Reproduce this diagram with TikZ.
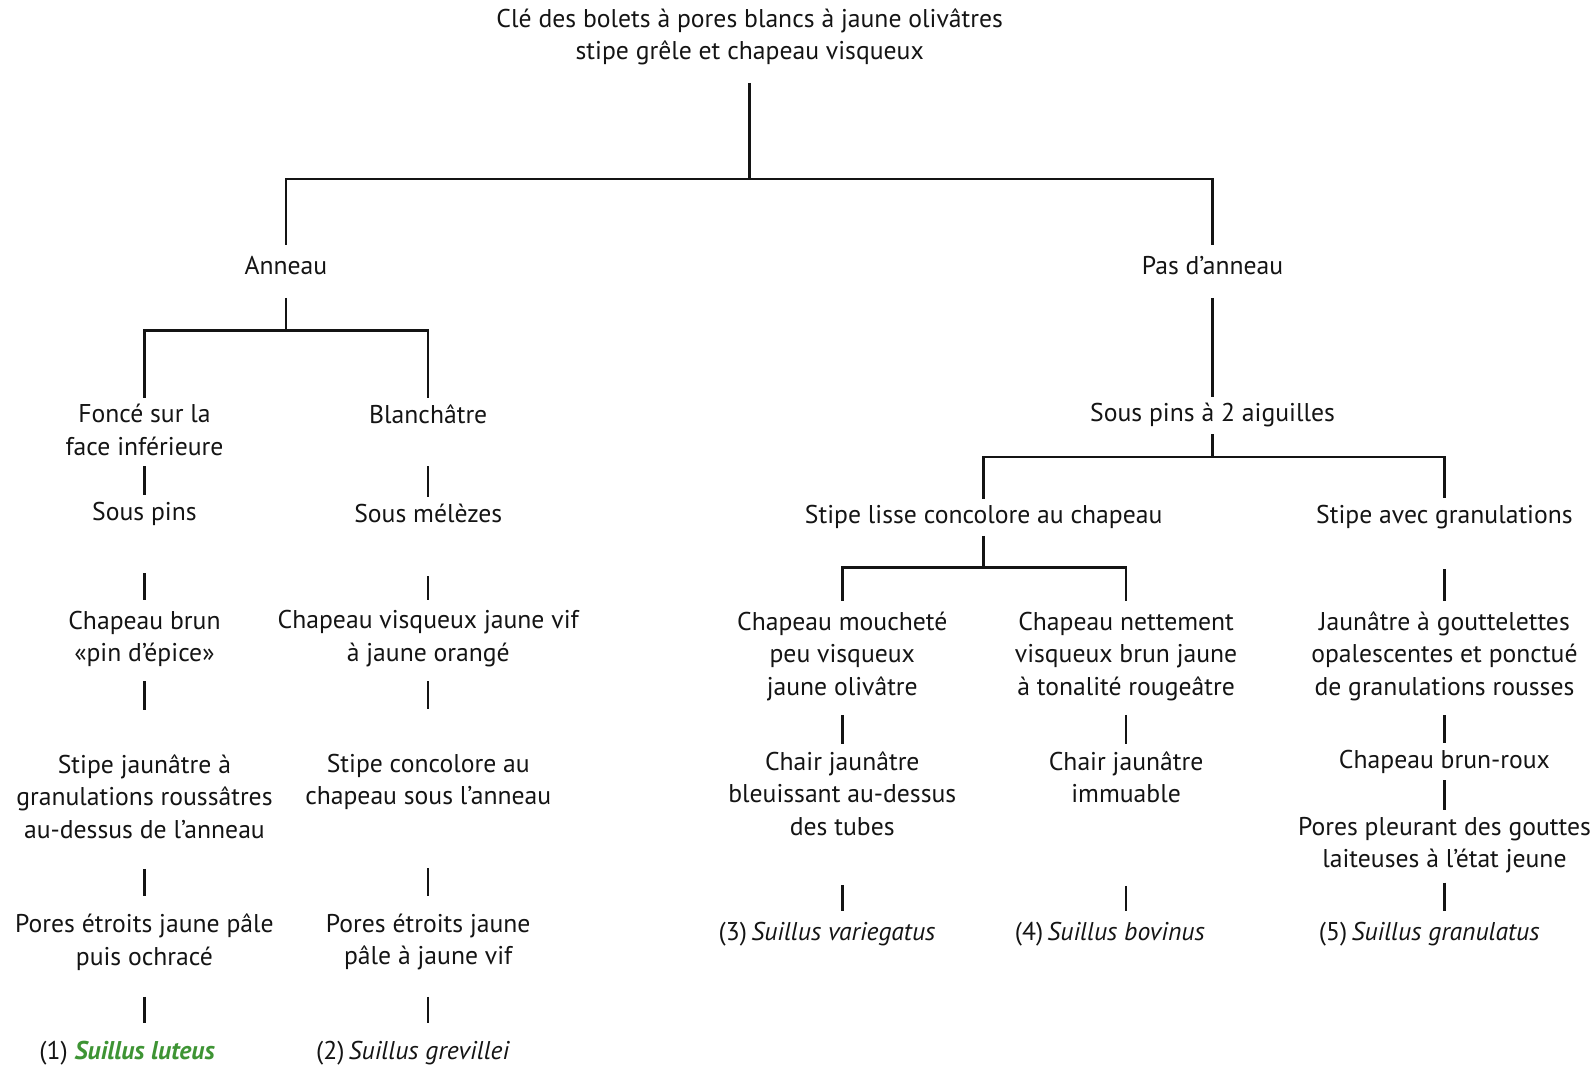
\documentclass[tikz,border=0pt]{standalone}
\usepackage{fontspec}
\setmainfont{PT Sans}
\usepackage{tikz}
\usetikzlibrary{positioning, calc}
\usepackage{xcolor}
\definecolor{SG}{RGB}{62,148,52}
\definecolor{DG}{RGB}{20,20,20}

\begin{document}
\begin{tikzpicture}[
  x=0.020344cm, y=-0.020344cm,
  key/.style={align=center, inner sep=0pt, text=DG,
              font=\fontsize{14.6}{18.5}\selectfont},
  stem/.style={draw=DG, line width=1.4pt}
]
\useasboundingbox (0,0) rectangle (1568,1049);

% Title
\node[key] (title) at (737,36)
  {Clé des bolets à pores blancs à jaune olivâtres\\stipe grêle et chapeau visqueux};

% First split
\node[key] (anneau) at (281,261) {Anneau};
\node[key] (pasann) at (1192,261) {Pas d’anneau};

% Branch with ring
\node[key] (fonce)  at (142,422.5) {Foncé sur la\\face inférieure};
\node[key] (blanch) at (421,407) {Blanchâtre};
\node[key] (spins)  at (142,505) {Sous pins};
\node[key] (smelez) at (421,505) {Sous mélèzes};
\node[key] (chbrun) at (142,628) {Chapeau brun\\«pin d’épice»};
\node[key] (chvisq) at (421,628) {Chapeau visqueux jaune vif\\à jaune orangé};
\node[key] (stjaun) at (142,783) {Stipe jaunâtre à\\granulations roussâtres\\au-dessus de l’anneau};
\node[key] (stconc) at (421,768.5) {Stipe concolore au\\chapeau sous l’anneau};
\node[key] (poresa) at (142,926) {Pores étroits jaune pâle\\puis ochracé};
\node[key] (poresb) at (421,926) {Pores étroits jaune\\pâle à jaune vif};
\node[key] (sp1) at (125,1035)
  {(1) \textcolor{SG}{\textbf{\textit{Suillus luteus}}}};
\node[key] (sp2) at (406,1035) {(2)\,\textit{Suillus grevillei}};

% Branch without ring
\node[key] (spins2)  at (1192,408) {Sous pins à 2 aiguilles};
\node[key] (stlisse) at (967,508) {Stipe lisse concolore au chapeau};
\node[key] (stgran)  at (1420,508) {Stipe avec granulations};
\node[key] (chmouch) at (828,645) {Chapeau moucheté\\peu visqueux\\jaune olivâtre};
\node[key] (chnett)  at (1107,645) {Chapeau nettement\\visqueux brun jaune\\à tonalité rougeâtre};
\node[key] (jaungt)  at (1420,645) {Jaunâtre à gouttelettes\\opalescentes et ponctué\\de granulations rousses};
\node[key] (chairbl) at (828,780) {Chair jaunâtre\\bleuissant au-dessus\\des tubes};
\node[key] (chairim) at (1107,764) {Chair jaunâtre\\immuable};
\node[key] (chbroux) at (1420,749) {Chapeau brun-roux};
\node[key] (pleur)   at (1420,831) {Pores pleurant des gouttes\\laiteuses à l’état jeune};
\node[key] (sp3) at (813,918) {(3)\,\textit{Suillus variegatus}};
\node[key] (sp4) at (1091,918) {(4)\,\textit{Suillus bovinus}};
\node[key] (sp5) at (1405,918) {(5)\,\textit{Suillus granulatus}};

% Forks
\coordinate (f0) at (737,176);
\coordinate (f1) at (281,325);
\coordinate (f2) at (1192,449);
\coordinate (f3) at (967,558);

\draw[stem, shorten <=10pt] (title.south) -- (f0);
\draw[stem, shorten >=6pt] (f0) -| (anneau.north);
\draw[stem, shorten >=6pt] (f0) -| (pasann.north);

\draw[stem, shorten <=13pt] (anneau.south) -- (f1);
\draw[stem, shorten >=3.5pt] (f1) -| (fonce.north);
\draw[stem, shorten >=3.5pt] (f1) -| (blanch.north);

\draw[stem, shorten <=4pt] (spins2.south) -- (f2);
\draw[stem, shorten >=3.5pt] (f2) -| (stlisse.north);
\draw[stem, shorten >=3.5pt] (f2) -| (stgran.north);

\draw[stem, shorten <=4pt] (stlisse.south) -- (f3);
\draw[stem, shorten >=6pt] (f3) -| (chmouch.north);
\draw[stem, shorten >=6pt] (f3) -| (chnett.north);

% Single steps down the key
\foreach \ndA/\ndB/\gA/\gB in {
  fonce/spins/6pt/4pt, blanch/smelez/24pt/4pt,
  spins/chbrun/27pt/6pt, smelez/chvisq/30pt/6pt,
  chbrun/stjaun/8pt/25pt, chvisq/stconc/8pt/25pt,
  stjaun/poresa/17pt/10pt, stconc/poresb/33pt/10pt,
  poresa/sp1/15pt/10pt, poresb/sp2/15pt/10pt,
  pasann/spins2/13pt/3.5pt, stgran/jaungt/23pt/6pt,
  chmouch/chairbl/8pt/4pt, chnett/chairim/8pt/4pt,
  jaungt/chbroux/8pt/4pt, chbroux/pleur/3.5pt/4pt,
  chairbl/sp3/28pt/6pt, chairim/sp4/47pt/6pt, pleur/sp5/5pt/6pt}{
  \draw[stem, shorten <=\gA, shorten >=\gB] (\ndA.south) -- (\ndA.south |- \ndB.north);
}
\end{tikzpicture}
\end{document}
